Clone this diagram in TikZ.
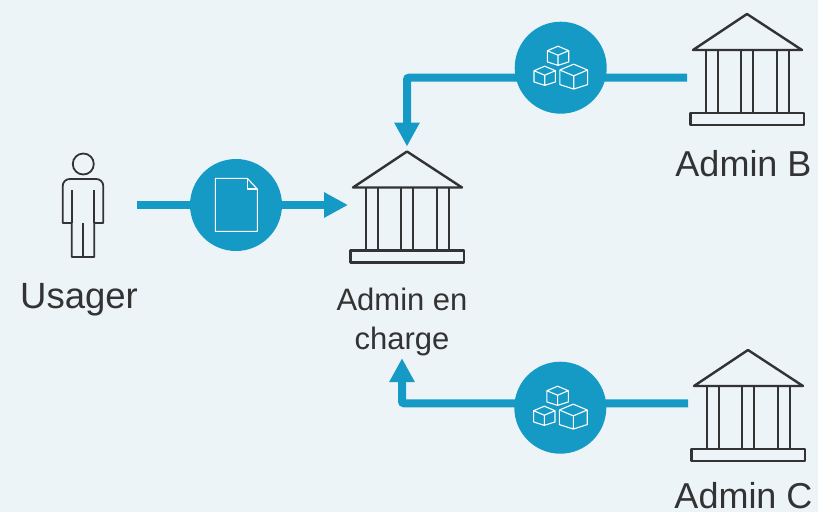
\documentclass[tikz,border=0pt]{standalone}
\usepackage{fontspec}
\setmainfont{Liberation Sans}
\usetikzlibrary{arrows.meta,positioning,calc}
\definecolor{flowblue}{HTML}{159AC5}
\definecolor{paleback}{HTML}{ECF4F8}
\definecolor{inkgrey}{HTML}{333333}
\tikzset{
  flow/.style={draw=flowblue, line width=8pt, rounded corners=2pt},
  flowtip/.style={flow, -{Triangle[length=24pt,width=24pt]}},
  disc/.style={circle, fill=flowblue, minimum size=92pt, inner sep=0pt},
  bankbox/.style={minimum width=114pt, minimum height=112pt, inner sep=0pt, outer sep=4pt},
  tag/.style={text=inkgrey, align=center, inner sep=0pt},
  pics/bank/.style={code={
    \draw[inkgrey, line width=2.4pt, line join=round]
      (-54,-19)--(0,-55)--(55,-19)--cycle;
    \foreach \xc in {-41,-29,-6,6,30,42}
      \draw[inkgrey, line width=2.4pt] (\xc,-19)--(\xc,44);
    \draw[inkgrey, line width=2.4pt, line join=round] (-56.5,44) rectangle (57,56);
  }},
  pics/crate/.style={code={
    \draw[white, line width=1.1pt, line join=round]
      (-1,0)--(0,-.42)--(1,0)--(1,1.05)--(0,1.37)--(-1,1.05)--cycle
      (-1,0)--(0,.42)--(1,0) (0,.42)--(0,1.37);
  }},
  pics/crates/.style={code={
    \pic[scale=10.7] at (-2.7,-17) {crate};
    \pic[scale=10.7] at (-16,3) {crate};
    \pic[scale=13.9] at (13,2.3) {crate};
  }}
}
\begin{document}
\begin{tikzpicture}[x=1pt,y=-1pt]
  \fill[paleback] (0,0) rectangle (818,512);
  \useasboundingbox (0,0) rectangle (818,512);
  % buildings
  \node[bankbox] (adminA) at (407,206.5) {};
  \node[bankbox] (adminB) at (747,69) {};
  \node[bankbox] (adminC) at (748,405) {};
  \pic at (adminA) {bank};
  \pic at (adminB) {bank};
  \pic at (adminC) {bank};
  % labels
  \node[tag, font=\fontsize{36.5}{44}\selectfont] (usagerTag) at (79,300) {Usager};
  \node[tag, font=\fontsize{31}{39}\selectfont] (adminATag) at (402,322) {Admin en\\charge};
  \node[tag, font=\fontsize{36}{44}\selectfont] (adminBTag) at (743.5,164) {Admin B};
  \node[tag, font=\fontsize{36}{44}\selectfont] (adminCTag) at (743.5,496) {Admin C};
  % person
  \coordinate (usager) at (83.3,205);
  \draw[inkgrey, line width=1.8pt] ($(usager)+(0,-41)$) circle[radius=10.5];
  \draw[inkgrey, line width=1.8pt, line join=round]
    ($(usager)+(-11.6,52)$)--($(usager)+(-11.6,18)$)--($(usager)+(-20.6,18)$)
    --($(usager)+(-20.6,-19)$) arc[start angle=180,end angle=270,radius=7]
    --($(usager)+(13,-26)$) arc[start angle=-90,end angle=0,radius=7]
    --($(usager)+(20,18)$)--($(usager)+(11,18)$)--($(usager)+(11,52)$)--cycle;
  \draw[inkgrey, line width=1.8pt] ($(usager)+(-11.6,-15)$)--($(usager)+(-11.6,18)$);
  \draw[inkgrey, line width=1.8pt] ($(usager)+(11,-15)$)--($(usager)+(11,18)$);
  \draw[inkgrey, line width=1.8pt] ($(usager)+(0,18)$)--($(usager)+(0,52)$);
  % flows
  \coordinate (usagerOut) at (137,205);
  \node[disc] (docDisc) at (236,205) {};
  \draw[flow] (usagerOut)--(docDisc.west);
  \draw[flowtip] (docDisc.east)--([xshift=2pt]docDisc.east -| adminA.west);
  \draw[flowtip] ([xshift=1pt,yshift=-8.7pt]adminB.west)-|(adminA.north);
  \draw[flowtip] ([xshift=1pt,yshift=1.7pt]adminC.west)-|([yshift=-2pt]adminATag.south);
  \node[disc] (cubesB) at (560.7,67.7) {};
  \node[disc] (cubesC) at (560.3,407.7) {};
  \pic at (cubesB) {crates};
  \pic at (cubesC) {crates};
  % document
  \draw[white, line width=1.1pt, line join=round]
    ($(docDisc)+(-20.7,-26.7)$)--($(docDisc)+(11.3,-26.7)$)--($(docDisc)+(21.3,-16)$)
    --($(docDisc)+(21.3,26.3)$)--($(docDisc)+(-20.7,26.3)$)--cycle;
  \draw[white, line width=1.1pt, line join=round]
    ($(docDisc)+(11.3,-26.7)$)--($(docDisc)+(11.3,-16)$)--($(docDisc)+(21.3,-16)$);
\end{tikzpicture}
\end{document}
